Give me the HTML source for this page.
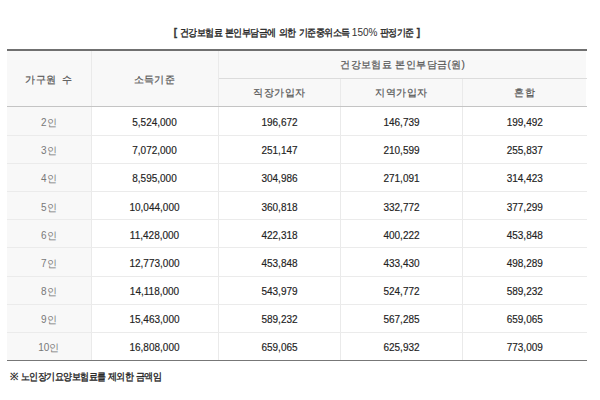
<!DOCTYPE html>
<html><head><meta charset="utf-8"><style>
html,body{margin:0;padding:0;background:#fff;width:600px;height:400px;overflow:hidden;position:relative}
body{font-family:"Liberation Sans",sans-serif;}
.t{position:absolute;white-space:nowrap;line-height:12px;font-size:10px;transform:translateX(-50%)}
.cap{color:#333;font-weight:bold;-webkit-text-stroke:0.3px #333}
.q{display:inline-block;transform:scaleX(0.9);transform-origin:0 0;font-weight:normal;letter-spacing:-0.6px;-webkit-text-stroke:0.35px #222;color:#222}
.cap .n{font-weight:normal;-webkit-text-stroke:0}
.hd{color:#555;font-size:10px;letter-spacing:0.45px;word-spacing:2px;-webkit-text-stroke:0.2px #555}
.hd2{color:#555;font-size:10px;letter-spacing:0.4px;-webkit-text-stroke:0.2px #555}
.c1{color:#777}
.num{color:#222;-webkit-text-stroke:0.15px #222}
.foot{color:#333;transform:none}
.foot .a{font-weight:bold}
</style></head><body>
<div style="position:absolute;left:7px;top:51px;width:579px;height:55px;background:#f8f8f8"></div>
<div style="position:absolute;left:7px;top:107px;width:84px;height:253px;background:#f8f8f8"></div>
<div style="position:absolute;left:7px;top:49px;width:580px;height:2px;background:#707070"></div>
<div style="position:absolute;left:219px;top:78px;width:368px;height:1px;background:#dcdcdc"></div>
<div style="position:absolute;left:91px;top:51px;width:1px;height:309px;background:#eaeaea"></div>
<div style="position:absolute;left:218px;top:51px;width:1px;height:309px;background:#eaeaea"></div>
<div style="position:absolute;left:340px;top:79px;width:1px;height:281px;background:#eaeaea"></div>
<div style="position:absolute;left:462px;top:79px;width:1px;height:281px;background:#eaeaea"></div>
<div style="position:absolute;left:7px;top:106px;width:580px;height:1px;background:#c4c4c4"></div>
<div style="position:absolute;left:7px;top:135px;width:580px;height:1px;background:#ebebeb"></div>
<div style="position:absolute;left:7px;top:163px;width:580px;height:1px;background:#ebebeb"></div>
<div style="position:absolute;left:7px;top:191px;width:580px;height:1px;background:#ebebeb"></div>
<div style="position:absolute;left:7px;top:219px;width:580px;height:1px;background:#ebebeb"></div>
<div style="position:absolute;left:7px;top:247px;width:580px;height:1px;background:#ebebeb"></div>
<div style="position:absolute;left:7px;top:276px;width:580px;height:1px;background:#ebebeb"></div>
<div style="position:absolute;left:7px;top:304px;width:580px;height:1px;background:#ebebeb"></div>
<div style="position:absolute;left:7px;top:332px;width:580px;height:1px;background:#ebebeb"></div>
<div style="position:absolute;left:7px;top:360px;width:580px;height:1px;background:#777"></div>
<div class="t cap" style="left:297px;top:27px"><span class="a">[ </span><span class="q" style="margin-right:-4.70px">건강보험료</span> <span class="q" style="margin-right:-5.64px">본인부담금에</span> <span class="q" style="margin-right:-1.88px">의한</span> <span class="q" style="margin-right:-5.64px">기준중위소득</span> <span class="n">150%</span> <span class="q" style="margin-right:-3.76px">판정기준</span> ]</div>
<div class="t hd" style="left:48.75px;top:74.00px"><span class="k">가구원</span><span class="a"> </span><span class="k">수</span></div>
<div class="t hd" style="left:154.50px;top:74.00px"><span class="k">소득기준</span></div>
<div class="t hd2" style="left:402.75px;top:59.00px"><span class="k">건강보험료</span><span class="a"> </span><span class="k">본인부담금</span><span class="a">(</span><span class="k">원</span><span class="a">)</span></div>
<div class="t hd" style="left:279.50px;top:86.70px"><span class="k">직장가입자</span></div>
<div class="t hd" style="left:401.50px;top:86.70px"><span class="k">지역가입자</span></div>
<div class="t hd" style="left:524.75px;top:87.00px"><span class="k">혼합</span></div>
<div class="t c1" style="left:48.75px;top:117.30px"><span class="a">2</span><span class="k">인</span></div>
<div class="t num" style="left:154.50px;top:117.30px"><span class="a">5,524,000</span></div>
<div class="t num" style="left:279.50px;top:117.30px"><span class="a">196,672</span></div>
<div class="t num" style="left:401.50px;top:117.30px"><span class="a">146,739</span></div>
<div class="t num" style="left:524.75px;top:117.30px"><span class="a">199,492</span></div>
<div class="t c1" style="left:48.75px;top:145.39px"><span class="a">3</span><span class="k">인</span></div>
<div class="t num" style="left:154.50px;top:145.39px"><span class="a">7,072,000</span></div>
<div class="t num" style="left:279.50px;top:145.39px"><span class="a">251,147</span></div>
<div class="t num" style="left:401.50px;top:145.39px"><span class="a">210,599</span></div>
<div class="t num" style="left:524.75px;top:145.39px"><span class="a">255,837</span></div>
<div class="t c1" style="left:48.75px;top:173.48px"><span class="a">4</span><span class="k">인</span></div>
<div class="t num" style="left:154.50px;top:173.48px"><span class="a">8,595,000</span></div>
<div class="t num" style="left:279.50px;top:173.48px"><span class="a">304,986</span></div>
<div class="t num" style="left:401.50px;top:173.48px"><span class="a">271,091</span></div>
<div class="t num" style="left:524.75px;top:173.48px"><span class="a">314,423</span></div>
<div class="t c1" style="left:48.75px;top:201.57px"><span class="a">5</span><span class="k">인</span></div>
<div class="t num" style="left:154.50px;top:201.57px"><span class="a">10,044,000</span></div>
<div class="t num" style="left:279.50px;top:201.57px"><span class="a">360,818</span></div>
<div class="t num" style="left:401.50px;top:201.57px"><span class="a">332,772</span></div>
<div class="t num" style="left:524.75px;top:201.57px"><span class="a">377,299</span></div>
<div class="t c1" style="left:48.75px;top:229.66px"><span class="a">6</span><span class="k">인</span></div>
<div class="t num" style="left:154.50px;top:229.66px"><span class="a">11,428,000</span></div>
<div class="t num" style="left:279.50px;top:229.66px"><span class="a">422,318</span></div>
<div class="t num" style="left:401.50px;top:229.66px"><span class="a">400,222</span></div>
<div class="t num" style="left:524.75px;top:229.66px"><span class="a">453,848</span></div>
<div class="t c1" style="left:48.75px;top:257.75px"><span class="a">7</span><span class="k">인</span></div>
<div class="t num" style="left:154.50px;top:257.75px"><span class="a">12,773,000</span></div>
<div class="t num" style="left:279.50px;top:257.75px"><span class="a">453,848</span></div>
<div class="t num" style="left:401.50px;top:257.75px"><span class="a">433,430</span></div>
<div class="t num" style="left:524.75px;top:257.75px"><span class="a">498,289</span></div>
<div class="t c1" style="left:48.75px;top:285.84px"><span class="a">8</span><span class="k">인</span></div>
<div class="t num" style="left:154.50px;top:285.84px"><span class="a">14,118,000</span></div>
<div class="t num" style="left:279.50px;top:285.84px"><span class="a">543,979</span></div>
<div class="t num" style="left:401.50px;top:285.84px"><span class="a">524,772</span></div>
<div class="t num" style="left:524.75px;top:285.84px"><span class="a">589,232</span></div>
<div class="t c1" style="left:48.75px;top:313.93px"><span class="a">9</span><span class="k">인</span></div>
<div class="t num" style="left:154.50px;top:313.93px"><span class="a">15,463,000</span></div>
<div class="t num" style="left:279.50px;top:313.93px"><span class="a">589,232</span></div>
<div class="t num" style="left:401.50px;top:313.93px"><span class="a">567,285</span></div>
<div class="t num" style="left:524.75px;top:313.93px"><span class="a">659,065</span></div>
<div class="t c1" style="left:48.75px;top:342.02px"><span class="a">10</span><span class="k">인</span></div>
<div class="t num" style="left:154.50px;top:342.02px"><span class="a">16,808,000</span></div>
<div class="t num" style="left:279.50px;top:342.02px"><span class="a">659,065</span></div>
<div class="t num" style="left:401.50px;top:342.02px"><span class="a">625,932</span></div>
<div class="t num" style="left:524.75px;top:342.02px"><span class="a">773,009</span></div>
<div class="t foot" style="left:10px;top:371px"><span class="a">※ </span><span class="q" style="margin-right:-9.40px">노인장기요양보험료를</span><span class="a"> </span><span class="q" style="margin-right:-2.82px">제외한</span><span class="a"> </span><span class="q" style="margin-right:-2.82px">금액임</span></div>
</body></html>
